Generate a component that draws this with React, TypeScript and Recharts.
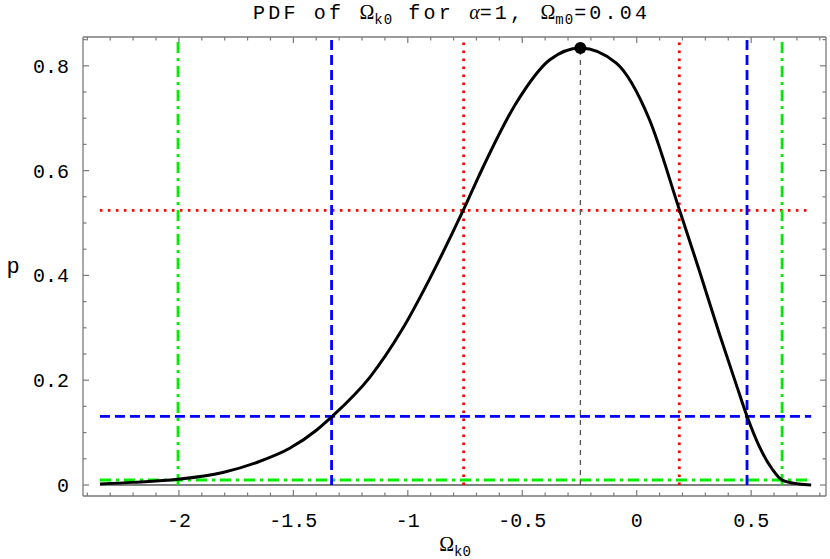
import { LineChart, Line, XAxis, YAxis, ReferenceLine, ReferenceDot } from "recharts";

// curve
const omegaK0 = [
  -2.345, -2.2, -2.004, -1.808, -1.66, -1.516, -1.398, -1.333, -1.167, -1.023, -0.905, -0.804,
  -0.756, -0.687, -0.525, -0.381, -0.246, -0.089, 0.055, 0.186, 0.273, 0.36, 0.434, 0.482,
  0.535, 0.591, 0.635, 0.709, 0.762,
];
const pdf = [
  0.002, 0.005, 0.011, 0.024, 0.043, 0.07, 0.105, 0.13, 0.205, 0.298, 0.393, 0.482,
  0.526, 0.592, 0.73, 0.811, 0.834, 0.805, 0.698, 0.526, 0.41, 0.29, 0.193, 0.131,
  0.074, 0.031, 0.0095, 0.002, 0.0,
];

// credible regions (red, blue, green)
const levels = [0.524, 0.131, 0.0095];
const lowerBounds = [-0.756, -1.333, -2.004];
const upperBounds = [0.186, 0.482, 0.635];
const modeOmega = -0.246;
const modeP = 0.834;

const xMajor = [-2, -1.5, -1, -0.5, 0, 0.5];
const xTicks = [
  -2.4, -2.3, -2.2, -2.1, -2, -1.9, -1.8, -1.7, -1.6, -1.5, -1.4, -1.3, -1.2, -1.1, -1, -0.9, -0.8,
  -0.7, -0.6, -0.5, -0.4, -0.3, -0.2, -0.1, 0, 0.1, 0.2, 0.3, 0.4, 0.5, 0.6, 0.7, 0.8,
];
const yMajor = [0, 0.2, 0.4, 0.6, 0.8];
const yTicks = [
  0, 0.05, 0.1, 0.15, 0.2, 0.25, 0.3, 0.35, 0.4, 0.45, 0.5, 0.55, 0.6, 0.65, 0.7, 0.75, 0.8, 0.85,
];

const X_DOMAIN: [number, number] = [-2.419, 0.827];
const Y_DOMAIN: [number, number] = [-0.021, 0.855];
const RED_TOP = 0.848;

const rows = omegaK0.map((o, i) => ({ omega: o, p: pdf[i] }));

const FRAME = "#7a7a7a";
const MONO = "'Liberation Mono', 'DejaVu Sans Mono', monospace";
const SERIF = "'Liberation Serif', 'DejaVu Serif', serif";
const lineColors = ["#ff0000", "#0000ff", "#00f000"];
const lineDash = ["2.5 5.5", "10 5", "11 5 3 5"];

const BottomTick = (props: any) => {
  const { x, y, payload } = props;
  const major = xMajor.includes(payload.value);
  return (
    <g>
      <path d={`M${x},${y}V${y - (major ? 6 : 3.5)}`} stroke={FRAME} strokeWidth={1.2} fill="none" />
      {major && (
        <text x={x} y={y + 31} textAnchor="middle" fontFamily={MONO} fontSize={20} fill="#000">
          {String(payload.value)}
        </text>
      )}
    </g>
  );
};

const TopTick = (props: any) => {
  const { x, y, payload } = props;
  const major = xMajor.includes(payload.value);
  return <path d={`M${x},${y}V${y + (major ? 6 : 3.5)}`} stroke={FRAME} strokeWidth={1.2} fill="none" />;
};

const LeftTick = (props: any) => {
  const { x, y, payload } = props;
  const major = yMajor.includes(payload.value);
  return (
    <g>
      <path d={`M${x},${y}H${x + (major ? 6 : 3.5)}`} stroke={FRAME} strokeWidth={1.2} fill="none" />
      {major && (
        <text x={x - 14} y={y + 7} textAnchor="end" fontFamily={MONO} fontSize={20} fill="#000">
          {String(payload.value)}
        </text>
      )}
    </g>
  );
};

const RightTick = (props: any) => {
  const { x, y, payload } = props;
  const major = yMajor.includes(payload.value);
  return <path d={`M${x},${y}H${x - (major ? 6 : 3.5)}`} stroke={FRAME} strokeWidth={1.2} fill="none" />;
};

const frameLine = { stroke: FRAME, strokeWidth: 1.3 };

export default function App() {
  const first = omegaK0[0];
  const last = omegaK0[omegaK0.length - 1];
  return (
    <div style={{ position: "absolute", left: 0, top: 0, width: 830, height: 559, background: "#fff" }}>
      <LineChart width={830} height={559} data={rows} margin={{ top: 36, right: 3, bottom: 0, left: 0 }}>
        <XAxis
          xAxisId="b"
          dataKey="omega"
          type="number"
          domain={X_DOMAIN}
          allowDataOverflow
          ticks={xTicks}
          interval={0}
          height={63}
          tickSize={0}
          tickMargin={0}
          tickLine={false}
          tick={(p: any) => <BottomTick {...p} />}
          axisLine={frameLine}
        />
        <XAxis
          xAxisId="t"
          orientation="top"
          dataKey="omega"
          type="number"
          domain={X_DOMAIN}
          allowDataOverflow
          ticks={xTicks}
          interval={0}
          height={1}
          tickSize={0}
          tickMargin={0}
          tickLine={false}
          tick={(p: any) => <TopTick {...p} />}
          axisLine={frameLine}
        />
        <YAxis
          yAxisId="l"
          type="number"
          domain={Y_DOMAIN}
          allowDataOverflow
          ticks={yTicks}
          interval={0}
          width={83}
          tickSize={0}
          tickMargin={0}
          tickLine={false}
          tick={(p: any) => <LeftTick {...p} />}
          axisLine={frameLine}
        />
        <YAxis
          yAxisId="r"
          orientation="right"
          type="number"
          domain={Y_DOMAIN}
          allowDataOverflow
          ticks={yTicks}
          interval={0}
          width={1}
          tickSize={0}
          tickMargin={0}
          tickLine={false}
          tick={(p: any) => <RightTick {...p} />}
          axisLine={frameLine}
        />

        {/* p = 0 axis under the curve */}
        <ReferenceLine
          xAxisId="b"
          yAxisId="l"
          segment={[{ x: first, y: 0 }, { x: last, y: 0 }]}
          stroke="#000"
          strokeWidth={1}
        />

        {levels.map((lv, i) => (
          <ReferenceLine
            key={"h" + i}
            xAxisId="b"
            yAxisId="l"
            segment={[{ x: first, y: lv }, { x: last, y: lv }]}
            stroke={lineColors[i]}
            strokeWidth={2.8}
            strokeDasharray={lineDash[i]}
          />
        ))}
        {lowerBounds.map((lo, i) => (
          <ReferenceLine
            key={"lo" + i}
            xAxisId="b"
            yAxisId="l"
            segment={[{ x: lo, y: 0 }, { x: lo, y: i === 0 ? RED_TOP : Y_DOMAIN[1] }]}
            stroke={lineColors[i]}
            strokeWidth={2.8}
            strokeDasharray={lineDash[i]}
          />
        ))}
        {upperBounds.map((hi, i) => (
          <ReferenceLine
            key={"hi" + i}
            xAxisId="b"
            yAxisId="l"
            segment={[{ x: hi, y: 0 }, { x: hi, y: i === 0 ? RED_TOP : Y_DOMAIN[1] }]}
            stroke={lineColors[i]}
            strokeWidth={2.8}
            strokeDasharray={lineDash[i]}
          />
        ))}
        <ReferenceLine
          xAxisId="b"
          yAxisId="l"
          segment={[{ x: modeOmega, y: 0 }, { x: modeOmega, y: modeP }]}
          stroke="#555"
          strokeWidth={1.3}
          strokeDasharray="5 5"
        />

        <Line
          xAxisId="b"
          yAxisId="l"
          type="monotone"
          dataKey="p"
          stroke="#000"
          strokeWidth={3}
          dot={false}
          isAnimationActive={false}
        />
        <ReferenceDot xAxisId="b" yAxisId="l" x={modeOmega} y={modeP} r={6} fill="#000" stroke="none" />
      </LineChart>

      <svg
        width={830}
        height={559}
        style={{ position: "absolute", left: 0, top: 0, pointerEvents: "none" }}
      >
        <text x={253} y={19} fontFamily={MONO} fontSize={20} fill="#000" letterSpacing={3.2}>
          <tspan>PDF of </tspan>
          <tspan fontFamily={SERIF} letterSpacing={0}>Ω</tspan>
          <tspan dy={5} fontSize={14} letterSpacing={1}>k0</tspan>
          <tspan dy={-5}> for </tspan>
          <tspan fontFamily={SERIF} fontStyle="italic" letterSpacing={0}>α</tspan>
          <tspan>=1, </tspan>
          <tspan fontFamily={SERIF} letterSpacing={0}>Ω</tspan>
          <tspan dy={5} fontSize={14} letterSpacing={1}>m0</tspan>
          <tspan dy={-5}>=0.04</tspan>
        </text>
        <text x={13} y={273} textAnchor="middle" fontFamily={MONO} fontSize={22} fill="#000">
          p
        </text>
        <text x={455} y={551} textAnchor="middle" fontSize={20} fill="#000">
          <tspan fontFamily={SERIF}>Ω</tspan>
          <tspan fontFamily={MONO} fontSize={14} dy={5}>k0</tspan>
        </text>
      </svg>
    </div>
  );
}
